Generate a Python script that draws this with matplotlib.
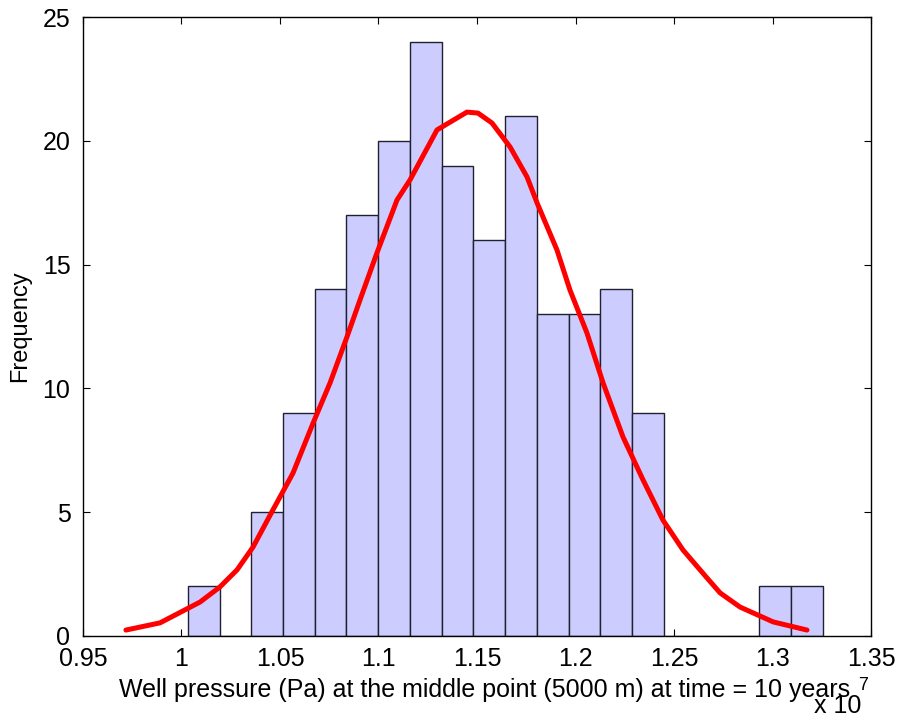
import matplotlib
matplotlib.use("Agg")
import matplotlib.pyplot as plt
import numpy as np

plt.rcParams["font.family"] = ["Liberation Sans", "DejaVu Sans"]

# histogram: 20 bins from first edge, counts
bin_start = 1.0032
bin_width = 0.01611
counts = [2, 0, 5, 9, 14, 17, 20, 24, 19, 16, 21, 13, 13, 14, 9, 0, 0, 0, 2, 2]

# fitted curve (x in units of 1e7 Pa, frequency)
curve_x = [0.9718, 0.9891, 1.0094, 1.0195, 1.0282, 1.0363, 1.0464, 1.0566, 1.0668,
           1.0754, 1.0840, 1.0906, 1.0992, 1.1094, 1.1160, 1.1297, 1.1449, 1.1505,
           1.1576, 1.1668, 1.1754, 1.1805, 1.1906, 1.1972, 1.2058, 1.2140, 1.2241,
           1.2343, 1.2444, 1.2546, 1.2668, 1.2734, 1.2835, 1.3003, 1.3175]
curve_y = [0.24, 0.53, 1.37, 1.98, 2.67, 3.59, 5.09, 6.58, 8.60,
           10.22, 12.08, 13.57, 15.47, 17.61, 18.42, 20.44, 21.16, 21.12,
           20.72, 19.75, 18.54, 17.49, 15.59, 13.97, 12.24, 10.22, 8.04,
           6.30, 4.68, 3.47, 2.34, 1.74, 1.17, 0.57, 0.24]

xticks = [0.95, 1, 1.05, 1.1, 1.15, 1.2, 1.25, 1.3, 1.35]
xticklabels = ["0.95", "1", "1.05", "1.1", "1.15", "1.2", "1.25", "1.3", "1.35"]
yticks = [0, 5, 10, 15, 20, 25]

fig = plt.figure(figsize=(9, 7.21), dpi=100)
ax = fig.add_axes([0.0922, 0.1179, 0.8756, 0.8585])

lefts = bin_start + bin_width * np.arange(len(counts))
ax.bar(lefts, counts, width=bin_width, align="edge", facecolor="#ccccff",
       edgecolor="#202030", linewidth=1.0, zorder=2)
ax.plot(curve_x, curve_y, color="red", lw=3.6, zorder=3, solid_joinstyle="round",
        solid_capstyle="round")

ax.set_xlim(0.95, 1.35)
ax.set_ylim(0, 25)
ax.set_xticks(xticks)
ax.set_xticklabels(xticklabels)
ax.set_yticks(yticks)
ax.tick_params(direction="in", top=True, right=True, length=5, width=0.8,
               labelsize=18)
ax.tick_params(axis="x", pad=8)
ax.tick_params(axis="y", pad=9)
for s in ax.spines.values():
    s.set_linewidth(1.0)
    s.set_zorder(4)

ax.set_ylabel("Frequency", fontsize=17, labelpad=8)
fig.text(0.538, 0.043, "Well pressure (Pa) at the middle point (5000 m) at time = 10 years",
         ha="center", va="center", fontsize=18)
fig.text(0.904, 0.021, "x 10", ha="left", va="center", fontsize=18)
fig.text(0.953, 0.049, "7", ha="left", va="center", fontsize=13)

fig.savefig("out.png", dpi=100)
